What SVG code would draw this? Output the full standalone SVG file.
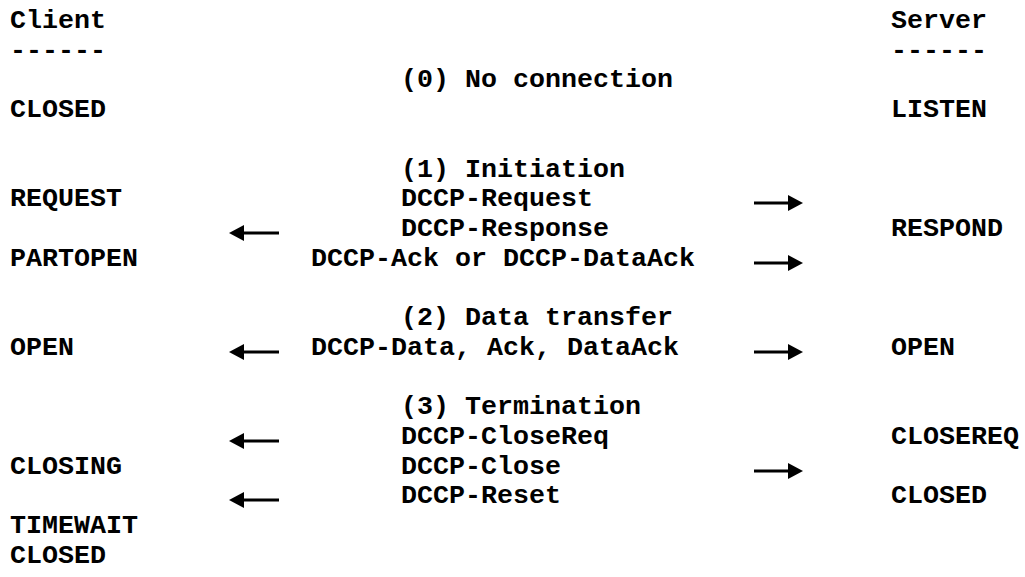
<svg xmlns="http://www.w3.org/2000/svg" width="1025" height="577" viewBox="0 0 1025 577">
<style>
text{font-family:"Courier New","Nimbus Mono PS","Liberation Mono",monospace;font-weight:bold;font-size:26.67px;fill:#000}
.ln{stroke:#000;stroke-width:3;fill:none}
.hd{fill:#000}
</style>
<rect width="1025" height="577" fill="#fff"/>
<g id="client">
<text x="10" y="28">Client</text>
<text x="10" y="57.7">------</text>
</g>
<g id="server">
<text x="891" y="28">Server</text>
<text x="891" y="57.7">------</text>
</g>
<g id="client-states">
<text x="10" y="117.1">CLOSED</text>
<text x="10" y="206.2">REQUEST</text>
<text x="10" y="265.6">PARTOPEN</text>
<text x="10" y="354.7">OPEN</text>
<text x="10" y="473.5">CLOSING</text>
<text x="10" y="532.9">TIMEWAIT</text>
<text x="10" y="562.6">CLOSED</text>
</g>
<g id="server-states">
<text x="891" y="117.1">LISTEN</text>
<text x="891" y="235.9">RESPOND</text>
<text x="891" y="354.7">OPEN</text>
<text x="891" y="443.8">CLOSEREQ</text>
<text x="891" y="503.2">CLOSED</text>
</g>
<g id="phases">
<text x="401" y="87.4">(0) No connection</text>
<text x="401" y="176.5">(1) Initiation</text>
<text x="401" y="325">(2) Data transfer</text>
<text x="401" y="414.1">(3) Termination</text>
</g>
<g id="messages">
<text x="401" y="206.2">DCCP-Request</text>
<text x="401" y="235.9">DCCP-Response</text>
<text x="311" y="265.6">DCCP-Ack or DCCP-DataAck</text>
<text x="311" y="354.7">DCCP-Data, Ack, DataAck</text>
<text x="401" y="443.8">DCCP-CloseReq</text>
<text x="401" y="473.5">DCCP-Close</text>
<text x="401" y="503.2">DCCP-Reset</text>
</g>
<g id="connectors">
<path class="ln" d="M754 203H792"/><path class="hd" d="M788 195L803 203L788 211Z"/>
<path class="ln" d="M754 263H792"/><path class="hd" d="M788 255L803 263L788 271Z"/>
<path class="ln" d="M754 352H792"/><path class="hd" d="M788 344L803 352L788 360Z"/>
<path class="ln" d="M754 471H792"/><path class="hd" d="M788 463L803 471L788 479Z"/>
<path class="ln" d="M279 233H240"/><path class="hd" d="M244 225L229 233L244 241Z"/>
<path class="ln" d="M279 352H240"/><path class="hd" d="M244 344L229 352L244 360Z"/>
<path class="ln" d="M279 441H240"/><path class="hd" d="M244 433L229 441L244 449Z"/>
<path class="ln" d="M279 500H240"/><path class="hd" d="M244 492L229 500L244 508Z"/>
</g>
</svg>
